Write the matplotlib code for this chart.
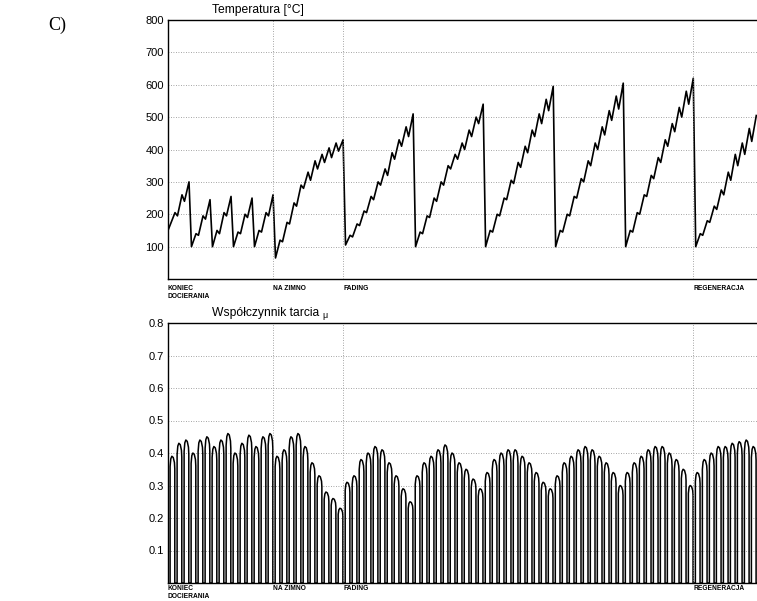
import matplotlib
matplotlib.use("Agg")
import matplotlib.pyplot as plt
import numpy as np

plt.rcParams['font.family'] = ['Liberation Sans', 'DejaVu Sans']

# one entry per braking; phases: docieranie (15), na zimno (10), fading (5 x 10), regeneracja (9)
t_start = [150, 195, 240, 100, 135, 185, 100, 140, 195, 100, 140, 190, 100, 145, 195,
           65, 115, 170, 225, 280, 305, 340, 360, 375, 395,
           105, 130, 165, 205, 245, 290, 320, 370, 410, 440,
           100, 140, 190, 240, 290, 340, 370, 400, 440, 480,
           100, 145, 195, 245, 295, 345, 390, 440, 480, 520,
           100, 145, 195, 250, 300, 350, 400, 445, 490, 525,
           100, 145, 200, 255, 310, 360, 410, 455, 500, 540,
           100, 135, 175, 215, 260, 305, 350, 385, 425]
t_peak = [205, 260, 300, 140, 195, 245, 150, 205, 255, 145, 200, 250, 150, 205, 260,
          120, 175, 235, 290, 330, 365, 385, 405, 420, 430,
          135, 170, 210, 255, 300, 340, 390, 430, 470, 510,
          145, 195, 250, 300, 350, 385, 420, 460, 500, 540,
          150, 200, 250, 305, 360, 410, 460, 510, 555, 595,
          150, 200, 255, 310, 365, 420, 470, 520, 565, 605,
          150, 205, 260, 320, 375, 430, 480, 530, 580, 620,
          140, 180, 225, 275, 330, 385, 420, 465, 505]
mu = [0.39, 0.43, 0.44, 0.40, 0.44, 0.45, 0.42, 0.44, 0.46, 0.40, 0.43, 0.455, 0.42, 0.45, 0.46,
      0.39, 0.41, 0.45, 0.46, 0.42, 0.37, 0.33, 0.28, 0.26, 0.23,
      0.31, 0.33, 0.38, 0.40, 0.42, 0.41, 0.37, 0.33, 0.29, 0.25,
      0.33, 0.37, 0.39, 0.41, 0.425, 0.40, 0.37, 0.35, 0.32, 0.29,
      0.34, 0.38, 0.40, 0.41, 0.41, 0.39, 0.37, 0.34, 0.31, 0.29,
      0.33, 0.37, 0.39, 0.41, 0.42, 0.41, 0.39, 0.37, 0.34, 0.30,
      0.34, 0.37, 0.39, 0.41, 0.42, 0.42, 0.40, 0.38, 0.35, 0.30,
      0.34, 0.38, 0.40, 0.42, 0.42, 0.43, 0.435, 0.44, 0.42]

event_pos = [0, 15, 25, 75]
event_labels = ["KONIEC\nDOCIERANIA", "NA ZIMNO", "FADING", "REGENERACJA"]
n = len(mu)

# build the traces: temperature rises during each braking, friction pulse while braking
tx, ty, mx, my = [], [], [], []
for i in range(n):
    tx += [i + 0.35, i + 1.0]
    ty += [t_start[i], t_peak[i]]
    m = mu[i]
    mx += [i + 0.3, i + 0.3, i + 0.4, i + 0.55, i + 0.75, i + 0.92, i + 0.97, i + 0.97, i + 1.3]
    my += [0, 0.92 * m, 0.98 * m, m, 0.99 * m, 0.95 * m, 0.9 * m, 0, 0]
tx[0] = 0

fig = plt.figure(figsize=(7.57, 6.01), dpi=100)
ax1 = fig.add_axes([168 / 757, 1 - 279 / 601, 1 - 168 / 757, 259 / 601])
ax2 = fig.add_axes([168 / 757, 1 - 583 / 601, 1 - 168 / 757, 260 / 601])

ax1.plot(tx, ty, color="black", lw=1.2)
ax2.plot(mx, my, color="black", lw=1.1)

for ax, ticks, fmt, lab_y in [(ax1, np.arange(100, 801, 100), "{:.0f}", -0.022),
                              (ax2, np.arange(0.1, 0.81, 0.1), "{:.1f}", -0.008)]:
    ax.set_xlim(0, 84.1)
    ax.set_yticks(ticks)
    ax.set_yticklabels([fmt.format(t) for t in ticks], fontsize=8)
    ax.set_xticks([])
    ax.tick_params(axis="y", length=0, pad=3)
    ax.grid(axis="y", linestyle=(0, (1, 2)), color="#888888", lw=0.6)
    for p in event_pos[1:]:
        ax.axvline(p, linestyle=(0, (1, 2)), color="#888888", lw=0.6)
    ax.spines["right"].set_visible(False)
    for s in ["left", "bottom", "top"]:
        ax.spines[s].set_linewidth(1.0)
    for p, lab in zip(event_pos, event_labels):
        ax.text(p, lab_y, lab, transform=ax.get_xaxis_transform(), fontsize=4.8,
                fontweight="bold", va="top", ha="left", linespacing=1.2)

ax1.set_ylim(0, 800)
ax2.set_ylim(0, 0.8)

fig.text(212 / 757, 1 - 10 / 601, "Temperatura [°C]", fontsize=8.7, va="center")
fig.text(212 / 757, 1 - 313 / 601, "Współczynnik tarcia", fontsize=8.7, va="center")
fig.text(322 / 757, 1 - 316 / 601, "μ", fontsize=6.5, va="center")
fig.text(48 / 757, 1 - 25 / 601, "C)", fontsize=13, va="center", family="Liberation Serif")

fig.savefig("out.png", dpi=100)
